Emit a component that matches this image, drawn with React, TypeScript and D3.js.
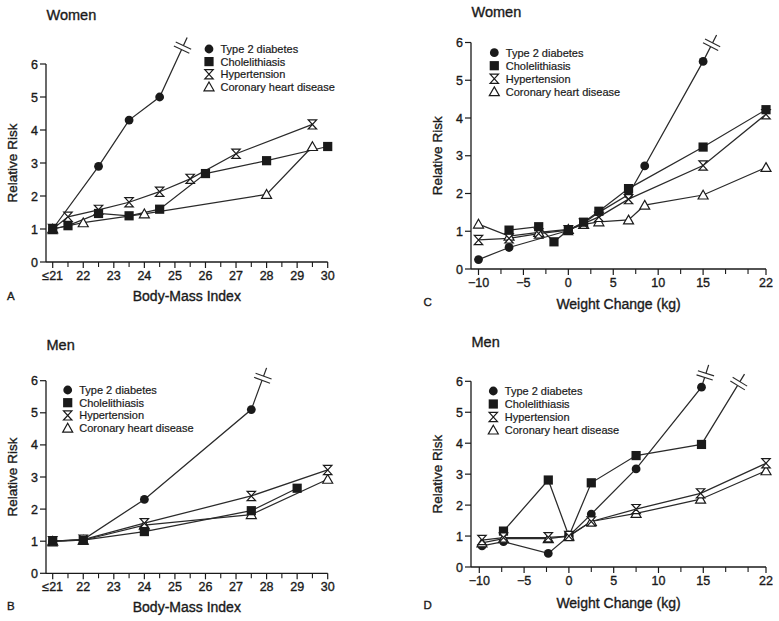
import React from "react";
import * as d3 from "d3";

// ---------- shared labels ----------
const seriesNames = ["Type 2 diabetes", "Cholelithiasis", "Hypertension", "Coronary heart disease"];
const seriesShapes = ["circle", "square", "hourglass", "triangle"];
const riskTicks = [0, 1, 2, 3, 4, 5, 6];
const bmiTicks = [21, 22, 23, 24, 25, 26, 27, 28, 29, 30];
const bmiTickLabels = ["≤21", "22", "23", "24", "25", "26", "27", "28", "29", "30"];
const bmiMinorTicks = [21.5, 22.5, 23.5, 24.5, 25.5, 26.5, 27.5, 28.5, 29.5];
const weightTicks = [-10, -5, 0, 5, 10, 15, 22];
const weightTickLabels = ["\u221210", "\u22125", "0", "5", "10", "15", "22"];
const weightMinorTicks = [-7.5, -2.5, 2.5, 7.5, 12.5, 17.5, 20];

// ---------- Panel A: Women, BMI ----------
const aDiabetesX = [21, 22.5, 23.5, 24.5, 25.4];
const aDiabetesY = [1, 2.9, 4.3, 5.0, 6.8];
const aCholeX = [21, 21.5, 22.5, 23.5, 24.5, 26, 28, 30];
const aCholeY = [1, 1.1, 1.47, 1.4, 1.6, 2.68, 3.07, 3.5];
const aHyperX = [21, 21.5, 22.5, 23.5, 24.5, 25.5, 27, 29.5];
const aHyperY = [1, 1.37, 1.58, 1.81, 2.13, 2.52, 3.28, 4.17];
const aChdX = [21, 22, 24, 28, 29.5];
const aChdY = [1, 1.19, 1.46, 2.05, 3.5];

// ---------- Panel B: Men, BMI ----------
const bDiabetesX = [21, 22, 24, 27.5, 28.0];
const bDiabetesY = [1, 1.05, 2.3, 5.1, 6.4];
const bCholeX = [21, 22, 24, 27.5, 29];
const bCholeY = [1, 1.03, 1.3, 1.95, 2.65];
const bHyperX = [21, 22, 24, 27.5, 30];
const bHyperY = [1, 1.05, 1.56, 2.41, 3.22];
const bChdX = [21, 22, 24, 27.5, 30];
const bChdY = [1, 1.03, 1.5, 1.83, 2.93];

// ---------- Panel C: Women, weight change ----------
const cDiabetesX = [-10, -6.6, 0, 1.7, 3.4, 6.7, 8.5, 15, 16.5];
const cDiabetesY = [0.25, 0.57, 1.02, 1.22, 1.5, 1.97, 2.73, 5.5, 6.2];
const cCholeX = [-6.6, -3.3, -1.6, 0, 1.7, 3.4, 6.7, 15, 22];
const cCholeY = [1.03, 1.12, 0.72, 1.03, 1.24, 1.53, 2.13, 3.23, 4.22];
const cHyperX = [-10, -6.6, -3.3, 0, 1.7, 3.4, 6.7, 15, 22];
const cHyperY = [0.77, 0.81, 0.94, 1.03, 1.2, 1.38, 1.85, 2.74, 4.1];
const cChdX = [-10, -6.6, -3.3, 0, 1.7, 3.4, 6.7, 8.5, 15, 22];
const cChdY = [1.19, 0.87, 0.97, 1.05, 1.18, 1.25, 1.3, 1.69, 1.96, 2.69];

// ---------- Panel D: Men, weight change ----------
const dDiabetesX = [-9.7, -7.3, -2.3, 0, 2.5, 7.5, 14.8, 15.6];
const dDiabetesY = [0.68, 0.82, 0.44, 1.0, 1.71, 3.17, 5.81, 6.53];
const dCholeX = [-7.3, -2.3, 0, 2.5, 7.5, 14.8, 19.6];
const dCholeY = [1.16, 2.81, 1.0, 2.72, 3.6, 3.96, 6.23];
const dHyperX = [-9.7, -7.3, -2.3, 0, 2.5, 7.5, 14.7, 22];
const dHyperY = [0.87, 0.95, 0.96, 1.0, 1.47, 1.87, 2.38, 3.35];
const dChdX = [-9.7, -7.3, -2.3, 0, 2.5, 7.5, 14.7, 22];
const dChdY = [0.78, 0.92, 0.92, 1.0, 1.47, 1.73, 2.19, 3.11];

type Series = { xs: number[]; ys: number[]; shape: string; brk: boolean };

const FONT = "'Liberation Sans', Arial, Helvetica, sans-serif";
const INK = "#1a1a1a";
const LINE = "#2a2a2a";
const HEAVY = { stroke: INK, strokeWidth: 0.35 };

function Marker({ shape, x, y }: { shape: string; x: number; y: number }) {
  if (shape === "circle") return <circle cx={x} cy={y} r={4.4} fill={INK} />;
  if (shape === "square") return <rect x={x - 4.6} y={y - 4.6} width={9.2} height={9.2} fill={INK} />;
  if (shape === "hourglass")
    return (
      <path
        d={`M${x - 4.2},${y - 4.6}H${x + 4.2}L${x - 4.2},${y + 4.6}H${x + 4.2}Z`}
        fill="#fff"
        stroke={INK}
        strokeWidth={1.2}
        strokeLinejoin="miter"
      />
    );
  return (
    <path
      d={`M${x},${y - 4.8}L${x + 5},${y + 4}L${x - 5},${y + 4}Z`}
      fill="#fff"
      stroke={INK}
      strokeWidth={1.2}
    />
  );
}

type PanelProps = {
  title: string;
  letter: string;
  xTitle: string;
  xDomain: [number, number];
  xRange: [number, number];
  yRange: [number, number];
  axisX: number;
  ticks: number[];
  tickLabels: string[];
  minorTicks: number[];
  series: Series[];
  markerOrder: number[];
  titlePos: [number, number];
  letterPos: [number, number];
  xTitleY: number;
  yTitleX: number;
  legendPos: [number, number];
  legendStep: number;
};

function Panel(p: PanelProps) {
  const x = d3.scaleLinear().domain(p.xDomain).range(p.xRange);
  const y = d3.scaleLinear().domain([0, 6]).range(p.yRange);
  const y0 = y(0);
  const xEnd = x(p.xDomain[1]);
  const line = d3
    .line<[number, number]>()
    .x((d) => x(d[0]))
    .y((d) => y(d[1]));

  return (
    <g>
      {/* titles */}
      <text x={p.titlePos[0]} y={p.titlePos[1]} fontSize={14.5} fill={INK} fontFamily={FONT} {...HEAVY}>
        {p.title}
      </text>
      <text x={p.letterPos[0]} y={p.letterPos[1]} fontSize={11.5} fill={INK} fontFamily={FONT} {...HEAVY}>
        {p.letter}
      </text>
      <text
        x={(p.axisX + xEnd) / 2}
        y={p.xTitleY}
        fontSize={14}
        fill={INK}
        textAnchor="middle"
        fontFamily={FONT}
        {...HEAVY}
      >
        {p.xTitle}
      </text>
      <text
        transform={`translate(${p.yTitleX},${(y(0) + y(6)) / 2}) rotate(-90)`}
        fontSize={13.5}
        fill={INK}
        textAnchor="middle"
        fontFamily={FONT}
        {...HEAVY}
      >
        Relative Risk
      </text>

      {/* axes */}
      <line x1={p.axisX} x2={p.axisX} y1={y0} y2={y(6)} stroke={INK} strokeWidth={1.3} />
      <line x1={p.axisX} x2={xEnd} y1={y0} y2={y0} stroke={INK} strokeWidth={1.3} />
      {riskTicks.map((t) => (
        <g key={"yt" + t}>
          <line x1={p.axisX - 6} x2={p.axisX} y1={y(t)} y2={y(t)} stroke={INK} strokeWidth={1.2} />
          <text
            x={p.axisX - 8}
            y={y(t)}
            dy="0.36em"
            fontSize={12.5}
            fill={INK}
            textAnchor="end"
            fontFamily={FONT}
            {...HEAVY}
          >
            {t}
          </text>
        </g>
      ))}
      {p.ticks.map((t, i) => (
        <g key={"xt" + t}>
          <line x1={x(t)} x2={x(t)} y1={y0} y2={y0 + 6} stroke={INK} strokeWidth={1.2} />
          <text
            x={x(t)}
            y={y0 + 17.5}
            fontSize={12.5}
            fill={INK}
            textAnchor="middle"
            fontFamily={FONT}
            {...HEAVY}
          >
            {p.tickLabels[i]}
          </text>
        </g>
      ))}
      {p.minorTicks.map((t) => (
        <line key={"mt" + t} x1={x(t)} x2={x(t)} y1={y0} y2={y0 + 5} stroke={INK} strokeWidth={1.1} />
      ))}

      {/* lines */}
      {p.series.map((s, si) => {
        const pts = s.xs.map((v, i) => [v, s.ys[i]] as [number, number]);
        return <path key={"l" + si} d={line(pts) || ""} fill="none" stroke={LINE} strokeWidth={1.25} />;
      })}

      {/* breaks */}
      {p.series
        .filter((s) => s.brk)
        .map((s, si) => {
          const n = s.xs.length;
          const ax = x(s.xs[n - 2]), ay = y(s.ys[n - 2]);
          const bx = x(s.xs[n - 1]), by = y(s.ys[n - 1]);
          const len = Math.hypot(bx - ax, by - ay);
          const ux = (bx - ax) / len, uy = (by - ay) / len;
          const cx = bx - ux * 11, cy = by - uy * 11;
          const nx = -uy, ny = ux;
          const half = 8.5;
          const gap = 2.2;
          return (
            <g key={"b" + si}>
              <line
                x1={cx - ux * gap}
                y1={cy - uy * gap}
                x2={cx + ux * gap}
                y2={cy + uy * gap}
                stroke="#fff"
                strokeWidth={3}
              />
              {[-gap, gap].map((o) => (
                <line
                  key={o}
                  x1={cx + ux * o - nx * half}
                  y1={cy + uy * o - ny * half}
                  x2={cx + ux * o + nx * half}
                  y2={cy + uy * o + ny * half}
                  stroke={LINE}
                  strokeWidth={1.1}
                />
              ))}
            </g>
          );
        })}

      {/* markers */}
      {p.markerOrder.map((si) => {
        const s = p.series[si];
        const n = s.brk ? s.xs.length - 1 : s.xs.length;
        return (
          <g key={"m" + si}>
            {s.xs.slice(0, n).map((v, i) => (
              <Marker key={i} shape={s.shape} x={x(v)} y={y(s.ys[i])} />
            ))}
          </g>
        );
      })}

      {/* legend */}
      {seriesNames.map((name, i) => {
        const ly = p.legendPos[1] + i * p.legendStep;
        return (
          <g key={"lg" + i}>
            <Marker shape={seriesShapes[i]} x={p.legendPos[0]} y={ly} />
            <text
              x={p.legendPos[0] + 11.5}
              y={ly}
              dy="0.36em"
              fontSize={11}
              fill={INK}
              fontFamily={FONT}
              stroke={INK}
              strokeWidth={0.2}
            >
              {name}
            </text>
          </g>
        );
      })}
    </g>
  );
}

function mk(xs: number[][], ys: number[][], brks: boolean[]): Series[] {
  return xs.map((xv, i) => ({ xs: xv, ys: ys[i], shape: seriesShapes[i], brk: brks[i] }));
}

export default function App() {
  const aSeries = mk(
    [aDiabetesX, aCholeX, aHyperX, aChdX],
    [aDiabetesY, aCholeY, aHyperY, aChdY],
    [true, false, false, false]
  );
  const bSeries = mk(
    [bDiabetesX, bCholeX, bHyperX, bChdX],
    [bDiabetesY, bCholeY, bHyperY, bChdY],
    [true, false, false, false]
  );
  const cSeries = mk(
    [cDiabetesX, cCholeX, cHyperX, cChdX],
    [cDiabetesY, cCholeY, cHyperY, cChdY],
    [true, false, false, false]
  );
  const dSeries = mk(
    [dDiabetesX, dCholeX, dHyperX, dChdX],
    [dDiabetesY, dCholeY, dHyperY, dChdY],
    [true, true, false, false]
  );

  return (
    <div style={{ position: "absolute", left: 0, top: 0 }}>
      <svg width={779} height={621} viewBox="0 0 779 621" style={{ display: "block", background: "#fff" }}>
        <rect width={779} height={621} fill="#fff" />
        <Panel
          title="Women"
          letter="A"
          xTitle="Body-Mass Index"
          xDomain={[21, 30]}
          xRange={[52.7, 327.7]}
          yRange={[262, 64]}
          axisX={46}
          ticks={bmiTicks}
          tickLabels={bmiTickLabels}
          minorTicks={bmiMinorTicks}
          series={aSeries}
          markerOrder={[0, 3, 2, 1]}
          titlePos={[46.5, 19.5]}
          letterPos={[7, 300]}
          xTitleY={300.5}
          yTitleX={17}
          legendPos={[209, 49]}
          legendStep={12.6}
        />
        <Panel
          title="Women"
          letter="C"
          xTitle="Weight Change (kg)"
          xDomain={[-10, 22]}
          xRange={[478.5, 766]}
          yRange={[269, 42.5]}
          axisX={471}
          ticks={weightTicks}
          tickLabels={weightTickLabels}
          minorTicks={weightMinorTicks}
          series={cSeries}
          markerOrder={[0, 3, 2, 1]}
          titlePos={[471.5, 16.5]}
          letterPos={[423.5, 306]}
          xTitleY={309}
          yTitleX={441.5}
          legendPos={[494.3, 52.7]}
          legendStep={13}
        />
        <Panel
          title="Men"
          letter="B"
          xTitle="Body-Mass Index"
          xDomain={[21, 30]}
          xRange={[52.7, 327.7]}
          yRange={[573.3, 380.7]}
          axisX={46}
          ticks={bmiTicks}
          tickLabels={bmiTickLabels}
          minorTicks={bmiMinorTicks}
          series={bSeries}
          markerOrder={[0, 3, 2, 1]}
          titlePos={[46.5, 350]}
          letterPos={[7, 610]}
          xTitleY={611.5}
          yTitleX={17}
          legendPos={[67.7, 390]}
          legendStep={12.7}
        />
        <Panel
          title="Men"
          letter="D"
          xTitle="Weight Change (kg)"
          xDomain={[-10, 22]}
          xRange={[479.3, 766]}
          yRange={[567, 381.3]}
          axisX={471}
          ticks={weightTicks}
          tickLabels={weightTickLabels}
          minorTicks={weightMinorTicks}
          series={dSeries}
          markerOrder={[0, 1, 3, 2]}
          titlePos={[471.5, 346.5]}
          letterPos={[423.5, 609]}
          xTitleY={608}
          yTitleX={441.5}
          legendPos={[493.3, 391]}
          legendStep={13}
        />
      </svg>
    </div>
  );
}
